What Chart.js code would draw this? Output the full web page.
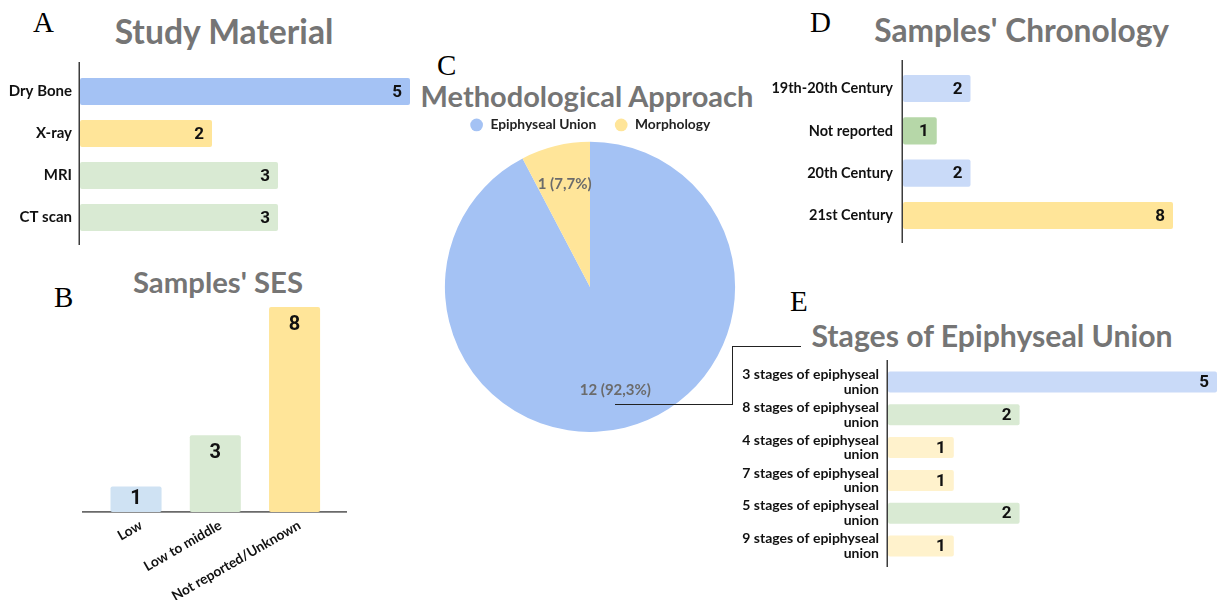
<!DOCTYPE html>
<html>
<head>
<meta charset="utf-8">
<script src="https://cdn.jsdelivr.net/npm/chart.js@4.4.1/dist/chart.umd.min.js"></script>
<style>
  html, body { margin: 0; padding: 0; background: #fff; }
  #page { position: relative; width: 1219px; height: 602px; overflow: hidden; background: #fff; }
  #page canvas { position: absolute; }
  .letter { position: absolute; font-family: "Liberation Serif", "DejaVu Serif", serif; font-size: 29px; line-height: 29px; color: #000; }
  .title { position: absolute; font-family: Lato, "Open Sans", sans-serif; font-weight: bold; color: #757575; white-space: nowrap; transform: translateX(-50%); line-height: 1; }
  .link { position: absolute; background: #222; }
</style>
</head>
<body>
<div id="page">
  <div class="letter" style="left:33px;top:7.7px">A</div>
  <div class="letter" style="left:54px;top:282.7px">B</div>
  <div class="letter" style="left:437px;top:50.7px">C</div>
  <div class="letter" style="left:810px;top:7.7px">D</div>
  <div class="letter" style="left:790px;top:286.7px">E</div>

  <div class="title" style="left:224px;top:15.1px;font-size:33.7px">Study Material</div>
  <div class="title" style="left:218px;top:267px;font-size:29.3px">Samples' SES</div>
  <div class="title" style="left:587px;top:81.3px;font-size:29px">Methodological Approach</div>
  <div class="title" style="left:1021.7px;top:14.9px;font-size:31.7px">Samples' Chronology</div>
  <div class="title" style="left:992px;top:320.2px;font-size:30.2px">Stages of Epiphyseal Union</div>

  <canvas id="chartA" width="420" height="200" style="left:0px;top:55px"></canvas>
  <canvas id="chartB" width="400" height="310" style="left:0px;top:290px"></canvas>
  <canvas id="chartC" width="292" height="332" style="left:444px;top:100px"></canvas>
  <canvas id="chartD" width="459" height="200" style="left:760px;top:55px"></canvas>
  <canvas id="chartE" width="499" height="220" style="left:720px;top:355px"></canvas>

  <!-- leader from the Epiphyseal Union slice to the stages panel -->
  <div class="link" style="left:615px;top:403.5px;width:118px;height:1px"></div>
  <div class="link" style="left:732px;top:346px;width:1px;height:58px"></div>
  <div class="link" style="left:732px;top:346px;width:69px;height:1px"></div>
</div>

<script>
// ---- A: study material ----
const materialLabels = ['Dry Bone', 'X-ray', 'MRI', 'CT scan'];
const materialCounts = [5, 2, 3, 3];

// ---- B: socioeconomic status of the samples ----
const sesLabels = ['Low', 'Low to middle', 'Not reported/Unknown'];
const sesCounts = [1, 3, 8];

// ---- C: methodological approach ----
const approachLabels = ['Epiphyseal Union', 'Morphology'];
const approachCounts = [12, 1];

// ---- D: chronology of the samples ----
const chronologyLabels = ['19th-20th Century', 'Not reported', '20th Century', '21st Century'];
const chronologyCounts = [2, 1, 2, 8];

// ---- E: number of epiphyseal union stages ----
const stageLabels = [
  ['3 stages of epiphyseal', 'union'],
  ['8 stages of epiphyseal', 'union'],
  ['4 stages of epiphyseal', 'union'],
  ['7 stages of epiphyseal', 'union'],
  ['5 stages of epiphyseal', 'union'],
  ['9 stages of epiphyseal', 'union']
];
const stageCounts = [5, 2, 1, 1, 2, 1];

// palette
const BLUE = '#a4c2f4', BLUE_PALE = '#c9daf8', SKY = '#cfe2f3';
const YELLOW = '#ffe599', YELLOW_PALE = '#fff2cc';
const GREEN = '#b6d7a8', GREEN_PALE = '#d9ead3';

const materialColors = [BLUE, YELLOW, GREEN_PALE, GREEN_PALE];
const sesColors = [SKY, GREEN_PALE, YELLOW];
const approachColors = [BLUE, YELLOW];
const chronologyColors = [BLUE_PALE, GREEN, BLUE_PALE, YELLOW];
const stageColors = [BLUE_PALE, GREEN_PALE, YELLOW_PALE, YELLOW_PALE, GREEN_PALE, YELLOW_PALE];

Chart.defaults.font.family = 'Lato, "Open Sans", sans-serif';
Chart.defaults.color = '#1a1a1a';

// category axis line, drawn a little past the plot area at both ends
const axisLine = {
  id: 'axisLine',
  beforeDatasetsDraw(chart, args, o) {
    const a = chart.chartArea, ctx = chart.ctx;
    ctx.save();
    ctx.strokeStyle = o.color;
    ctx.lineWidth = o.width;
    ctx.beginPath();
    if (o.vertical) {
      const x = a.left - o.width / 2;
      ctx.moveTo(x, a.top - o.before);
      ctx.lineTo(x, a.bottom + o.after);
    } else {
      const y = a.bottom + o.width / 2 - 1;
      ctx.moveTo(a.left - o.before, y);
      ctx.lineTo(a.right + o.after, y);
    }
    ctx.stroke();
    ctx.restore();
  }
};

// count printed inside the end of each bar
const valueLabels = {
  id: 'valueLabels',
  afterDatasetsDraw(chart, args, o) {
    const ctx = chart.ctx;
    const values = chart.data.datasets[0].data;
    ctx.save();
    ctx.font = o.font;
    ctx.fillStyle = o.color;
    chart.getDatasetMeta(0).data.forEach((bar, i) => {
      const p = bar.getProps(['x', 'y', 'base'], true);
      if (chart.options.indexAxis === 'y') {
        ctx.textAlign = 'right';
        ctx.textBaseline = 'middle';
        ctx.fillText(String(values[i]), p.x - o.inset, p.y + 1);
      } else {
        ctx.textAlign = 'center';
        ctx.textBaseline = 'middle';
        const cy = Math.min(p.y + o.inset, (p.y + p.base) / 2);
        ctx.fillText(String(values[i]), p.x, cy);
      }
    });
    ctx.restore();
  }
};

// "count (share%)" placed along each slice's bisector
const sliceLabels = {
  id: 'sliceLabels',
  afterDatasetsDraw(chart, args, o) {
    const ctx = chart.ctx;
    const values = chart.data.datasets[0].data;
    const total = values.reduce((s, v) => s + v, 0);
    ctx.save();
    ctx.font = o.font;
    ctx.fillStyle = o.color;
    ctx.textAlign = 'center';
    ctx.textBaseline = 'middle';
    chart.getDatasetMeta(0).data.forEach((arc, i) => {
      const p = arc.getProps(['x', 'y', 'startAngle', 'endAngle', 'outerRadius'], true);
      const mid = (p.startAngle + p.endAngle) / 2;
      const r = p.outerRadius * o.radius;
      const share = (values[i] / total * 100).toFixed(1).replace('.', ',');
      ctx.fillText(values[i] + ' (' + share + '%)', p.x + Math.cos(mid) * r, p.y + Math.sin(mid) * r);
    });
    ctx.restore();
  }
};

function horizontalBars(id, labels, values, colors, cfg) {
  return new Chart(document.getElementById(id), {
    type: 'bar',
    data: {
      labels: labels,
      datasets: [{
        data: values,
        backgroundColor: colors,
        borderRadius: 2,
        borderSkipped: false,
        categoryPercentage: 1,
        barPercentage: cfg.barPct
      }]
    },
    options: {
      indexAxis: 'y',
      responsive: false,
      animation: false,
      devicePixelRatio: 1,
      layout: { padding: cfg.padding },
      plugins: {
        legend: { display: false },
        tooltip: { enabled: false },
        axisLine: { vertical: true, color: '#3c3c3c', width: 1.5, before: cfg.before, after: cfg.after },
        valueLabels: { font: 'bold 17px Roboto, Arial, sans-serif', color: '#111', inset: 8 }
      },
      scales: {
        x: { display: false, min: 0, max: cfg.max },
        y: {
          grid: { display: false, drawTicks: false },
          border: { display: false },
          ticks: {
            color: '#111',
            autoSkip: false,
            padding: cfg.tickPad,
            font: { weight: 'bold', size: cfg.fontSize, lineHeight: cfg.lineHeight || 1.2 }
          },
          afterFit(scale) {
            scale.width = cfg.axisWidth;
            scale.paddingTop = 0;
            scale.paddingBottom = 0;
          }
        }
      }
    },
    plugins: [axisLine, valueLabels]
  });
}

horizontalBars('chartA', materialLabels, materialCounts, materialColors, {
  max: 5, barPct: 0.643, axisWidth: 80, tickPad: 8, fontSize: 15,
  padding: { top: 15.5, bottom: 16.5, right: 10, left: 0 }, before: 8.5, after: 6.5
});

horizontalBars('chartD', chronologyLabels, chronologyCounts, chronologyColors, {
  max: 8, barPct: 0.64, axisWidth: 143, tickPad: 10, fontSize: 14.5,
  padding: { top: 12.4, bottom: 18.4, right: 46, left: 0 }, before: 7.4, after: 6.4
});

horizontalBars('chartE', stageLabels, stageCounts, stageColors, {
  max: 5, barPct: 0.64, axisWidth: 168, tickPad: 9, fontSize: 14, lineHeight: 1.04,
  padding: { top: 10.6, bottom: 12.6, right: 2, left: 0 }, before: 5.6, after: 4.6
});

// B: vertical bars with slanted category labels
new Chart(document.getElementById('chartB'), {
  type: 'bar',
  data: {
    labels: sesLabels,
    datasets: [{
      data: sesCounts,
      backgroundColor: sesColors,
      borderRadius: 2,
      borderSkipped: false,
      categoryPercentage: 1,
      barPercentage: 0.644
    }]
  },
  options: {
    responsive: false,
    animation: false,
    devicePixelRatio: 1,
    layout: { padding: { left: 96.4, right: 65.8, top: 17, bottom: 0 } },
    plugins: {
      legend: { display: false },
      tooltip: { enabled: false },
      axisLine: { vertical: false, color: '#6a6a6a', width: 1.8, before: 14.4, after: 12.8 },
      valueLabels: { font: 'bold 20px Roboto, Arial, sans-serif', color: '#111', inset: 18 }
    },
    scales: {
      x: {
        grid: { display: false, drawTicks: false },
        border: { display: false },
        ticks: {
          color: '#111',
          minRotation: 30,
          maxRotation: 30,
          padding: 5,
          labelOffset: 5,
          font: { weight: 'bold', size: 13.8 }
        },
        afterFit(scale) {
          scale.height = 88;
          scale.paddingLeft = 0;
          scale.paddingRight = 0;
        }
      },
      y: { display: false, min: 0, max: 8 }
    }
  },
  plugins: [axisLine, valueLabels]
});

// C: pie of the methodological approach
new Chart(document.getElementById('chartC'), {
  type: 'pie',
  data: {
    labels: approachLabels,
    datasets: [{ data: approachCounts, backgroundColor: approachColors, borderWidth: 0 }]
  },
  options: {
    responsive: false,
    animation: false,
    devicePixelRatio: 1,
    layout: { padding: 0 },
    plugins: {
      legend: {
        position: 'top',
        labels: {
          usePointStyle: true,
          pointStyle: 'circle',
          boxWidth: 14,
          boxHeight: 9,
          padding: 18,
          color: '#222',
          font: { weight: 'bold', size: 13.8 }
        }
      },
      tooltip: { enabled: false },
      sliceLabels: { font: 'bold 15px Lato, sans-serif', color: '#6b6b6b', radius: 0.73 }
    }
  },
  plugins: [sliceLabels]
});
</script>
</body>
</html>
